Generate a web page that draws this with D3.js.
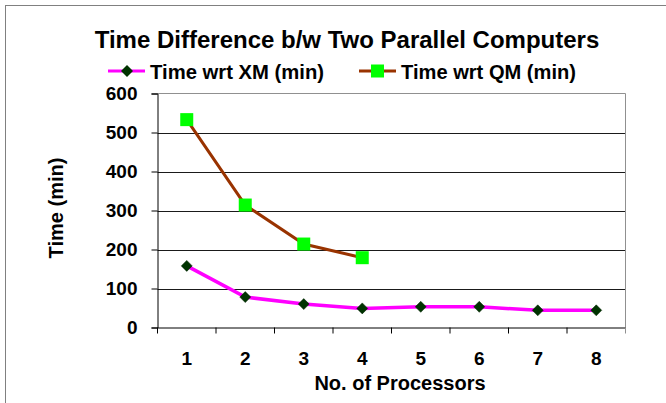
<!DOCTYPE html>
<html lang="en">
<head>
  <meta charset="UTF-8">
  <title>Time Difference b/w Two Parallel Computers</title>
  <script src="https://d3js.org/d3.v7.min.js"></script>
  <style>
    body { margin: 0; background: #fff; }
    svg { display: block; font-family: Arial, "Liberation Sans", sans-serif; }
    .tick-label { font-size: 19px; font-weight: bold; fill: #000; }
    .axis-title { font-size: 20px; font-weight: bold; fill: #000; }
  </style>
</head>
<body>
  <svg width="666" height="403"></svg>
  <script>
    const processors = [1, 2, 3, 4, 5, 6, 7, 8];
    const xmTimes = [158, 78, 60, 49, 53, 53, 44, 44];
    const qmTimes = [533, 314, 214, 179];
    const yTicks = [0, 100, 200, 300, 400, 500, 600];

    const svg = d3.select("svg");
    const plotLeft = 157.5, plotRight = 625.5, plotTop = 93.5, plotBottom = 327.5;

    const x = d3.scaleBand().domain(processors).range([plotLeft, plotRight]);
    const y = d3.scaleLinear().domain([0, 600]).range([plotBottom, plotTop]);
    const cx = d => x(d) + x.bandwidth() / 2;

    // outer chart frame (runs off the right/bottom edge)
    svg.append("rect")
        .attr("x", 5.5).attr("y", 5.5)
        .attr("width", 720).attr("height", 450)
        .attr("fill", "none").attr("stroke", "#808080");

    // gridlines
    svg.append("g")
      .selectAll("line")
      .data(yTicks.filter(d => d > 0 && d < 600))
      .enter().append("line")
        .attr("x1", plotLeft).attr("x2", plotRight)
        .attr("y1", d => Math.round(y(d)) + 0.5).attr("y2", d => Math.round(y(d)) + 0.5)
        .attr("stroke", "#1a1a1a");

    // plot border top + right
    svg.append("path")
        .attr("d", `M${plotLeft},${plotTop}H${plotRight}V${plotBottom}`)
        .attr("fill", "none").attr("stroke", "#909090");

    // y axis
    const yAxis = svg.append("g")
        .attr("transform", `translate(${plotLeft},0)`)
        .call(d3.axisLeft(y).tickValues(yTicks).tickSize(6).tickPadding(14));
    yAxis.select(".domain").attr("stroke", "#000");
    yAxis.selectAll(".tick line").attr("stroke", "#000");
    yAxis.selectAll(".tick text").attr("class", "tick-label").attr("fill", null);

    // x axis: ticks sit between categories
    const xAxis = svg.append("g")
        .attr("transform", `translate(0,${plotBottom})`)
        .call(d3.axisBottom(x).tickSize(0).tickPadding(24));
    xAxis.select(".domain").attr("stroke", "#000");
    xAxis.selectAll(".tick text").attr("class", "tick-label").attr("fill", null);
    xAxis.selectAll("line.sep")
      .data(processors.concat([null]))
      .enter().append("line")
        .attr("class", "sep")
        .attr("x1", (d, i) => i < processors.length ? x(d) : plotRight)
        .attr("x2", (d, i) => i < processors.length ? x(d) : plotRight)
        .attr("y1", 0).attr("y2", 6)
        .attr("stroke", (d, i) => i < processors.length ? "#000" : "#909090");

    // series lines
    const seriesLine = d3.line().x((d, i) => cx(processors[i])).y(d => y(d));
    svg.append("path")
        .datum(qmTimes)
        .attr("d", seriesLine)
        .attr("fill", "none").attr("stroke", "#993300").attr("stroke-width", 3);
    svg.append("path")
        .datum(xmTimes)
        .attr("d", seriesLine)
        .attr("fill", "none").attr("stroke", "#FF00FF").attr("stroke-width", 3.5);

    // markers
    const diamond = s => `M0,${-s}L${s},0L0,${s}L${-s},0Z`;
    svg.append("g")
      .selectAll("rect")
      .data(qmTimes)
      .enter().append("rect")
        .attr("x", (d, i) => cx(processors[i]) - 6.5)
        .attr("y", d => y(d) - 6.5)
        .attr("width", 13).attr("height", 13)
        .attr("fill", "#00FF00");
    svg.append("g")
      .selectAll("path")
      .data(xmTimes)
      .enter().append("path")
        .attr("transform", (d, i) => `translate(${cx(processors[i])},${y(d)})`)
        .attr("d", diamond(5.5))
        .attr("fill", "#003300").attr("stroke", "#002200").attr("stroke-width", 0.5);

    // title
    svg.append("text")
        .attr("x", 347).attr("y", 48)
        .attr("text-anchor", "middle")
        .style("font-size", "24px").style("font-weight", "bold")
        .text("Time Difference b/w Two Parallel Computers");

    // legend
    const legend = [
      { name: "Time wrt XM (min)", x: 108, w: 174, line: "#FF00FF", marker: "diamond", fill: "#003300" },
      { name: "Time wrt QM (min)", x: 359, w: 175, line: "#993300", marker: "square", fill: "#00FF00" }
    ];
    const lg = svg.append("g").selectAll("g").data(legend).enter().append("g")
        .attr("transform", d => `translate(${d.x},71)`);
    lg.append("line")
        .attr("x1", 0).attr("x2", 37).attr("y1", 0).attr("y2", 0)
        .attr("stroke", d => d.line).attr("stroke-width", 3);
    lg.filter(d => d.marker === "diamond").append("path")
        .attr("transform", "translate(19,0)")
        .attr("d", diamond(6))
        .attr("fill", d => d.fill);
    lg.filter(d => d.marker === "square").append("rect")
        .attr("x", 12).attr("y", -6.5).attr("width", 13).attr("height", 13)
        .attr("fill", d => d.fill);
    lg.append("text")
        .attr("x", 42).attr("y", 7.5)
        .attr("textLength", d => d.w)
        .attr("lengthAdjust", "spacingAndGlyphs")
        .style("font-size", "20px").style("font-weight", "bold")
        .text(d => d.name);

    // axis titles
    svg.append("text")
        .attr("class", "axis-title")
        .attr("transform", "translate(63,208) rotate(-90)")
        .attr("text-anchor", "middle")
        .text("Time (min)");
    svg.append("text")
        .attr("class", "axis-title")
        .attr("x", 400).attr("y", 390)
        .attr("text-anchor", "middle")
        .text("No. of Processors");
  </script>
</body>
</html>
